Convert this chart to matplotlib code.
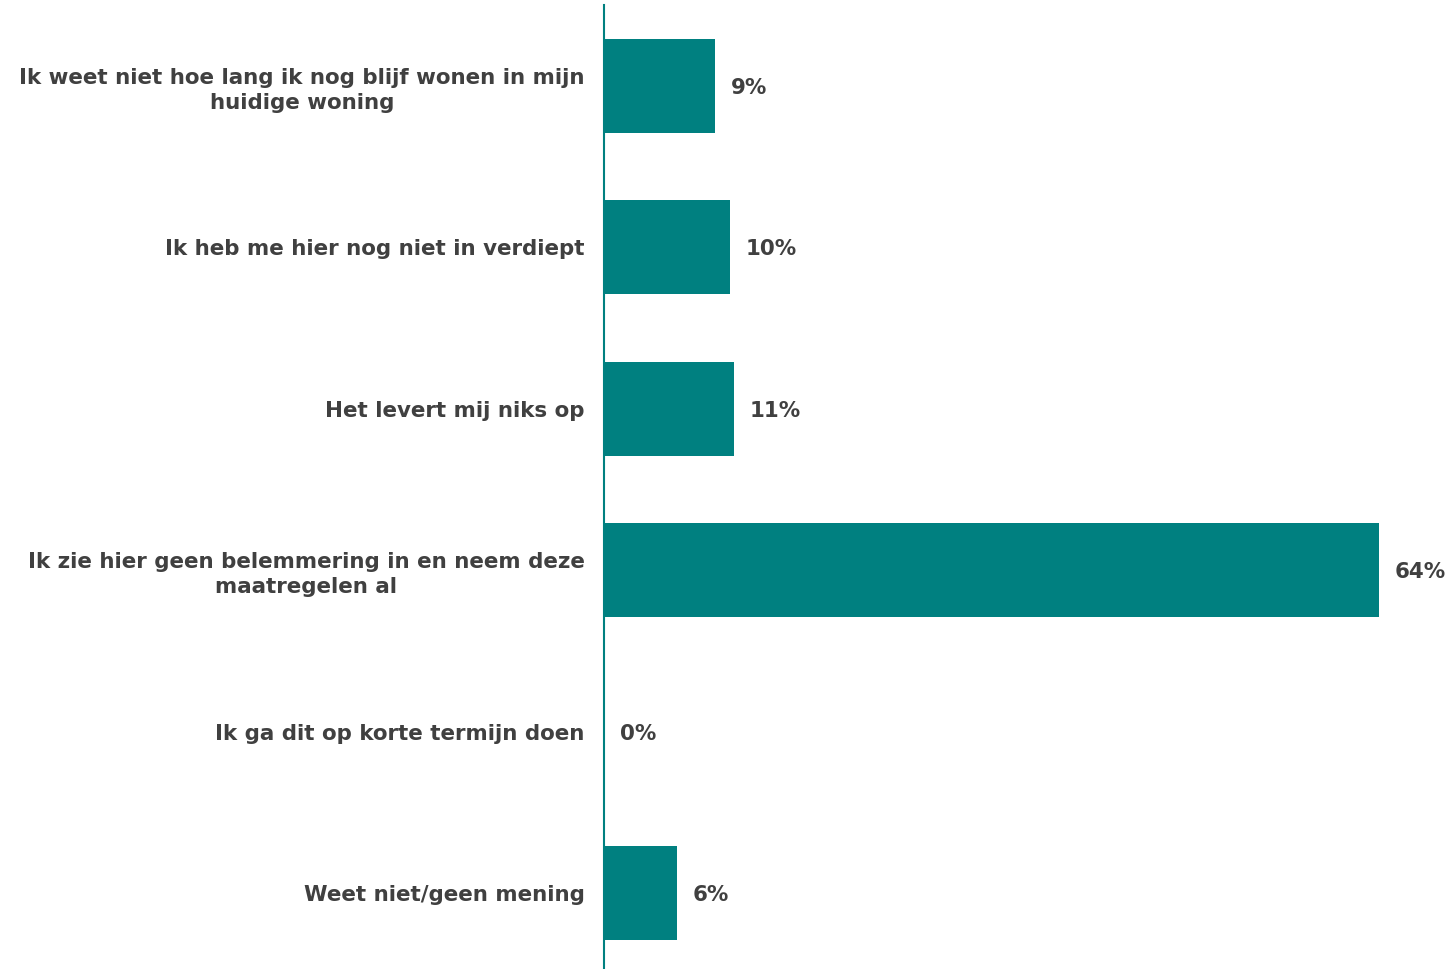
import matplotlib as mpl
mpl.use('Agg')
import matplotlib.pyplot as plt

# survey answers, top to bottom
categories = [
    'Ik weet niet hoe lang ik nog blijf wonen in mijn\nhuidige woning',
    'Ik heb me hier nog niet in verdiept',
    'Het levert mij niks op',
    'Ik zie hier geen belemmering in en neem deze\nmaatregelen al',
    'Ik ga dit op korte termijn doen',
    'Weet niet/geen mening',
]
values = [9.2, 10.4, 10.7, 64.0, 0.0, 6.0]

bar_color = '#008080'
text_color = '#404040'
fsize = 15.4

fig = plt.figure(figsize=(14.54, 9.69), dpi=100)
ax = fig.add_axes([604 / 1454, 0, 1 - 604 / 1454, 964 / 969])

y = range(len(values))
ax.barh(y, values, height=0.58, color=bar_color)
ax.set_xlim(0, 70.2)
ax.set_ylim(5.47, -0.5)

for i, v in enumerate(values):
    ax.text(v + 1.3, i, f'{v:.0f}%', va='center_baseline', ha='left',
            fontsize=fsize, fontweight='bold', color=text_color)

ax.set_yticks(list(y))
ax.set_yticklabels(categories, fontsize=fsize, fontweight='bold',
                   color=text_color, multialignment='center',
                   linespacing=1.3, va='center_baseline')
ax.tick_params(axis='y', length=0, pad=14)
ax.set_xticks([])

for s in ['top', 'right', 'bottom']:
    ax.spines[s].set_visible(False)
ax.spines['left'].set_color(bar_color)
ax.spines['left'].set_linewidth(1.5)

plt.savefig('out.png', dpi=100)
